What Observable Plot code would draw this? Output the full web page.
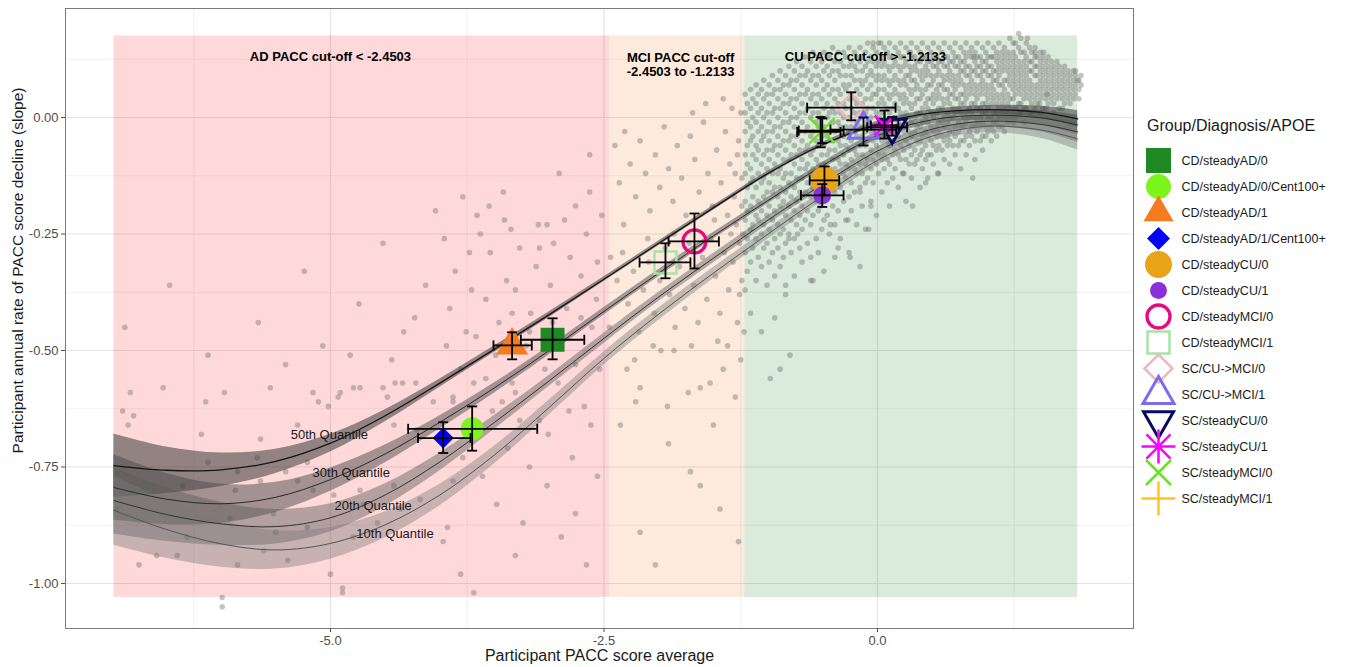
<!DOCTYPE html>
<html><head><meta charset="utf-8">
<script src="https://cdn.jsdelivr.net/npm/d3@7"></script>
<script src="https://cdn.jsdelivr.net/npm/@observablehq/plot@0.6"></script>
<style>
html,body{margin:0;padding:0;background:#fff;}
body{font-family:"Liberation Sans",Arial,sans-serif;}
#wrap{position:relative;width:1347px;height:667px;overflow:hidden;}
#chart{position:absolute;left:0;top:0;}
#legendTitle{position:absolute;left:1147px;top:116px;font-size:16px;color:#1a1a1a;white-space:nowrap;line-height:20px;}
#legend{position:absolute;left:1140px;top:140px;}
</style></head><body>
<div id="wrap"><div id="chart"></div><div id="legendTitle"></div><div id="legend"></div></div>
<script>
// ---------------- DATA ----------------
const xTitle = "Participant PACC score average";
const yTitle = "Participant annual rate of PACC score decline (slope)";
const legendTitle = "Group/Diagnosis/APOE";

const xTicks = [-5, -2.5, 0];
const xTickLabels = ["-5.0", "-2.5", "0.0"];
const yTicks = [0, -0.25, -0.5, -0.75, -1];
const yTickLabels = ["0.00", "-0.25", "-0.50", "-0.75", "-1.00"];
const xMinor = [-6.25, -3.75, -1.25, 1.25];
const yMinor = [0.125, -0.125, -0.375, -0.625, -0.875];

const zoneNames = ["AD", "MCI", "CU"];
const zoneX1 = [-6.98, -2.4503, -1.2133];
const zoneX2 = [-2.4503, -1.2133, 1.83];
const zoneY1 = [-1.03, -1.03, -1.03];
const zoneY2 = [0.175, 0.175, 0.175];
const zoneLabels = ["AD PACC cut-off < -2.4503", "MCI PACC cut-off\n-2.4503 to -1.2133", "CU PACC cut-off > -1.2133"];
const zoneLabelX = [-5.0, -1.80, -0.11];
const zoneLabelY = [0.13, 0.114, 0.13];

// quantile regression curves
const quantileLabels = ["50th Quantile", "30th Quantile", "20th Quantile", "10th Quantile"];
const quantileLabelX = [-5.01, -4.81, -4.61, -4.41];
const quantileLabelY = [-0.680, -0.762, -0.833, -0.893];
const curveX = [-6.98, -6.5, -6, -5.5, -5, -4.5, -4, -3.5, -3, -2.5, -2, -1.5, -1, -0.5, 0, 0.5, 1, 1.5, 1.83];
const q50 = [-0.747, -0.757, -0.756, -0.738, -0.699, -0.640, -0.570, -0.497, -0.423, -0.347, -0.270, -0.194, -0.120, -0.058, -0.014, 0.010, 0.017, 0.011, -0.003];
const q30 = [-0.794, -0.819, -0.829, -0.815, -0.777, -0.722, -0.654, -0.580, -0.500, -0.416, -0.334, -0.254, -0.178, -0.103, -0.039, -0.005, 0.005, -0.001, -0.016];
const q20 = [-0.822, -0.852, -0.872, -0.878, -0.859, -0.810, -0.739, -0.654, -0.565, -0.474, -0.385, -0.302, -0.220, -0.143, -0.072, -0.025, -0.008, -0.015, -0.031];
const q10 = [-0.843, -0.884, -0.915, -0.928, -0.914, -0.874, -0.810, -0.724, -0.622, -0.517, -0.422, -0.334, -0.250, -0.168, -0.092, -0.040, -0.019, -0.027, -0.046];
const se50 = [0.068, 0.050, 0.036, 0.026, 0.019, 0.013, 0.009, 0.007, 0.006, 0.005, 0.005, 0.005, 0.005, 0.005, 0.006, 0.007, 0.009, 0.013, 0.018];
const se30 = [0.070, 0.055, 0.042, 0.032, 0.025, 0.019, 0.014, 0.011, 0.009, 0.008, 0.008, 0.007, 0.007, 0.007, 0.008, 0.009, 0.011, 0.015, 0.021];
const se20 = [0.072, 0.058, 0.046, 0.037, 0.030, 0.024, 0.019, 0.015, 0.012, 0.011, 0.010, 0.010, 0.009, 0.009, 0.009, 0.010, 0.012, 0.016, 0.022];
const se10 = [0.075, 0.062, 0.050, 0.041, 0.034, 0.028, 0.023, 0.019, 0.016, 0.014, 0.013, 0.012, 0.011, 0.011, 0.011, 0.012, 0.014, 0.018, 0.024];

// group summaries (mean and error bars)
const groups = ["CD/steadyAD/0", "CD/steadyAD/0/Cent100+", "CD/steadyAD/1", "CD/steadyAD/1/Cent100+", "CD/steadyCU/0", "CD/steadyCU/1", "CD/steadyMCI/0", "CD/steadyMCI/1", "SC/CU->MCI/0", "SC/CU->MCI/1", "SC/steadyCU/0", "SC/steadyCU/1", "SC/steadyMCI/0", "SC/steadyMCI/1"];
const groupX   = [-2.97, -3.705, -3.34, -3.97, -0.485, -0.505, -1.673, -1.938, -0.24, -0.128, 0.134, 0.064, -0.505, -0.52];
const groupY   = [-0.477, -0.668, -0.489, -0.688, -0.135, -0.167, -0.266, -0.311, 0.021, -0.026, -0.021, -0.017, -0.028, -0.031];
const groupXlo = [-3.26, -4.29, -3.51, -4.20, -0.62, -0.70, -1.91, -2.175, -0.643, -0.43, -0.094, -0.06, -0.72, -0.734];
const groupXhi = [-2.68, -3.11, -3.16, -3.72, -0.35, -0.31, -1.45, -1.71, 0.165, 0.17, 0.271, 0.19, -0.31, -0.338];
const groupYlo = [-0.519, -0.715, -0.519, -0.720, -0.167, -0.192, -0.324, -0.345, -0.006, -0.060, -0.039, -0.045, -0.055, -0.064];
const groupYhi = [-0.431, -0.620, -0.461, -0.654, -0.105, -0.143, -0.206, -0.270, 0.054, 0.000, 0.001, 0.015, -0.002, 0.001];

// participant points (x, y in hundredths)
const ptsAD = "-683,-59 -653,-58 -690,-63 -685,-66 -680,-64 -614,-61 -597,-59 -618,-68 -555,-58 -564,-69 -675,-96 -659,-94 -640,-94 -599,-103 -585,-96 -530,-66 -516,-59 -511,-61 -502,-62 -491,-59 -493,-60 -479,-58 -473,-58 -452,-58 -441,-57 -448,-60 -434,-57 -422,-57 -406,-61 -388,-60 -442,-66 -421,-67 -521,-74 -541,-76 -567,-73 -612,-74 -635,-79 -587,-80 -564,-78 -530,-78 -516,-80 -497,-81 -473,-80 -442,-79 -418,-82 -388,-78 -393,-88 -397,-91 -436,-84 -470,-83 -521,-88 -550,-89 -552,-85 -592,-86 -631,-90 -561,-93 -539,-95 -500,-98 -489,-101 -381,-98 -479,-90 -457,-87 -585,-76 -695,-84 -599,-105 -489,-102 -369,-102 -688,-45 -647,-36 -566,-44 -524,-33 -507,-49 -474,-40 -452,-27 -433,-46 -413,-36 -404,-20 -612,-51 -541,-53 -482,-51 -444,-52 -423,-43 -263,-8 -291,-12 -342,-16 -366,-21 -355,-19 -341,-22 -335,-24 -310,-23 -302,-23 -286,-22 -276,-19 -263,-16 -252,-21 -363,-25 -386,-33 -371,-37 -354,-29 -339,-35 -327,-28 -312,-32 -296,-27 -281,-30 -266,-25 -256,-31 -391,-41 -376,-46 -358,-39 -346,-44 -331,-37 -317,-42 -299,-36 -284,-41 -271,-34 -257,-39 -394,-49 -381,-54 -367,-47 -349,-51 -334,-57 -321,-49 -304,-54 -289,-47 -276,-53 -261,-45 -388,-61 -369,-57 -352,-63 -331,-59 -309,-65 -292,-57 -268,-62 -254,-54 -379,-73 -361,-77 -338,-71 -318,-75 -301,-68 -279,-73 -262,-66 -348,-83 -324,-87 -302,-79 -276,-85 -256,-77 -331,-94 -289,-90 -266,-96 -396,-26 -379,-17 -373,-29 -318,-46 -343,-61 -297,-44 -282,-63 -358,-56 -327,-65 -271,-43 -309,-28 -334,-42";
const ptsMCI = "-240,-6 -236,-14 -231,-3 -226,-10 -221,-17 -217,-5 -212,-12 -208,-20 -203,-8 -199,-15 -195,-2 -191,-11 -187,-18 -183,-6 -179,-13 -175,-21 -171,-4 -167,-9 -163,-16 -159,-1 -155,-12 -151,-19 -147,-7 -143,-14 -139,-3 -135,-10 -131,-17 -127,-5 -124,-13 -157,3 -141,4 -133,2 -125,1 -169,1 -149,-22 -137,-21 -129,-23 -186,-25 -210,-26 -232,-23 -244,-30 -238,-35 -233,-29 -228,-40 -223,-33 -218,-46 -214,-37 -209,-31 -204,-42 -199,-35 -194,-28 -190,-38 -185,-45 -181,-32 -176,-41 -172,-27 -168,-36 -164,-44 -160,-30 -156,-39 -152,-26 -148,-34 -144,-42 -140,-29 -136,-37 -132,-31 -128,-44 -124,-35 -126,-27 -134,-25 -146,-48 -170,-49 -198,-50 -222,-52 -245,-45 -229,-54 -205,-49 -186,-50 -173,-59 -162,-58 -153,-57 -141,-54 -137,-49 -217,-58 -221,-61 -192,-62 -171,-76 -144,-84 -127,-91 -203,-96 -217,-89 -162,-79 -191,-70 -235,-66 -150,-66 -130,-60 -128,-8 -124,-19 -126,-38 -122,-46 -130,-12 -123,-25 -125,-52";
const ptsCUcols = [
"-121:5,1,-3,-8,-12,-18,-22,-29,-37", "-119:3,-1,-6,-10,-15,-20,-26,-33", "-116:6,2,-2,-5,-11,-14,-19,-24,-31,-42",
"-114:4,0,-4,-8,-13,-17,-23,-28", "-111:7,3,-1,-6,-9,-15,-21,-26,-35", "-109:5,1,-3,-7,-12,-18,-22,-30",
"-106:6,2,-2,-5,-10,-14,-20,-25,-32,-46", "-104:8,4,0,-4,-8,-13,-17,-23,-28", "-101:5,1,-3,-7,-11,-16,-21,-27,-36",
"-99:7,3,-1,-5,-9,-14,-19,-24,-31", "-96:9,5,1,-3,-7,-12,-16,-22,-29", "-94:6,2,-2,-6,-10,-15,-20,-26,-34,-43",
"-91:8,4,0,-4,-8,-12,-17,-23,-28", "-89:10,6,2,-2,-6,-11,-15,-19,-25,-32", "-86:7,3,-1,-5,-9,-13,-18,-24,-30",
"-84:9,5,1,-3,-7,-12,-16,-21,-27,-38", "-81:11,7,3,-1,-5,-9,-14,-19,-25", "-79:8,4,0,-4,-8,-12,-17,-22,-29",
"-76:10,6,2,-2,-6,-10,-15,-20,-26,-34", "-74:12,8,4,0,-4,-8,-13,-18,-23", "-71:9,5,1,-3,-7,-11,-16,-21,-28",
"-69:11,7,3,-1,-5,-9,-13,-19,-24,-31", "-66:13,9,5,1,-3,-7,-11,-16,-22", "-64:10,6,2,-2,-6,-10,-14,-20,-27",
"-61:12,8,4,0,-4,-8,-12,-17,-23,-35", "-59:14,9,5,1,-3,-7,-11,-15,-21", "-56:11,7,3,-1,-5,-9,-13,-18,-26",
"-54:13,9,5,1,-2,-6,-10,-14,-20,-29", "-51:12,8,4,0,-4,-8,-12,-17,-24", "-49:14,10,6,2,-2,-6,-10,-15,-22,-33",
"-46:11,7,3,0,-4,-8,-12,-16,-21", "-44:13,9,5,1,-3,-7,-11,-15,-25", "-41:15,10,6,2,-1,-5,-9,-13,-19",
"-39:12,8,4,1,-3,-7,-11,-16,-23,-30", "-36:14,10,6,3,-1,-5,-9,-14,-20", "-34:12,9,5,1,-2,-6,-10,-15,-26",
"-31:14,11,7,3,0,-4,-8,-12,-18", "-29:13,9,6,2,-2,-6,-10,-13,-22", "-26:15,11,7,4,0,-3,-7,-11,-17,-29",
"-24:12,9,5,2,-2,-5,-9,-14,-20", "-21:14,11,8,4,1,-3,-7,-11,-16", "-19:13,10,6,3,-1,-4,-8,-12,-23",
"-16:15,12,8,5,1,-2,-6,-10,-15", "-14:13,10,7,3,0,-4,-8,-12,-19", "-11:14,11,8,4,1,-3,-6,-10,-14,-24",
"-9:16,12,9,6,2,-1,-5,-9,-13", "-6:13,10,7,4,0,-3,-7,-11,-18", "-4:15,12,9,5,2,-2,-5,-9,-14",
"-1:14,11,8,5,1,-2,-6,-10,-21", "1:16,12,9,6,3,0,-4,-8,-12", "4:13,11,8,4,1,-2,-5,-9,-16",
"6:15,12,9,6,3,-1,-4,-8,-11", "9:14,11,8,5,2,-1,-5,-9,-14", "11:16,13,10,7,4,1,-3,-6,-10,-19",
"14:13,11,8,5,2,-2,-5,-8,-13", "16:15,12,9,6,3,0,-3,-7,-11", "19:14,11,8,5,2,-1,-4,-8,-15",
"21:16,13,10,7,4,1,-2,-6,-9", "24:13,11,8,5,3,0,-3,-7,-12", "26:15,12,9,7,4,1,-2,-5,-9,-18",
"29:14,11,9,6,3,0,-3,-6,-10", "31:16,13,10,8,5,2,-1,-4,-8,-13", "34:13,11,8,6,3,0,-3,-7,-10",
"36:15,12,10,7,4,1,-2,-5,-9", "39:14,12,9,6,4,1,-2,-5,-8,-15", "41:16,13,10,8,5,2,-1,-4,-7,-11",
"44:13,11,9,6,3,0,-3,-6,-9", "46:15,12,10,7,4,2,-1,-4,-8,-13", "49:14,12,9,7,4,1,-2,-5,-8",
"51:16,13,11,8,5,3,0,-3,-6,-10", "54:13,11,9,6,4,1,-2,-4,-7", "56:15,12,10,7,5,2,-1,-3,-6,-12",
"59:14,12,9,7,4,2,-1,-4,-7", "61:16,13,11,8,6,3,0,-2,-5,-9", "64:13,11,9,6,4,1,-1,-4,-6",
"66:15,12,10,8,5,3,0,-3,-5,-10", "69:14,12,9,7,5,2,0,-3,-6", "71:16,13,11,8,6,4,1,-2,-4,-8",
"74:13,11,9,7,4,2,-1,-3,-6", "76:15,12,10,8,5,3,1,-2,-5,-11", "79:14,12,10,7,5,3,0,-2,-5",
"81:16,13,11,9,6,4,1,-1,-4,-8", "84:14,11,9,7,5,2,0,-3,-6", "86:15,13,10,8,6,3,1,-2,-4",
"89:14,12,10,7,5,3,0,-2,-5,-9", "91:16,13,11,9,6,4,2,-1,-3", "94:13,11,9,7,5,2,0,-2,-5",
"96:15,12,10,8,6,3,1,-1,-4,-7", "99:14,12,10,7,5,3,1,-2,-4", "101:16,13,11,9,6,4,2,0,-3",
"104:13,11,9,7,5,3,0,-2,-5", "106:15,13,10,8,6,4,1,-1,-3", "109:14,12,10,8,5,3,1,-1,-4",
"111:16,13,11,9,7,4,2,0,-2", "114:14,12,10,7,5,3,1,-2", "116:15,13,11,8,6,4,2,0,-3",
"119:14,12,10,8,5,3,1,-1", "121:17,13,11,9,7,4,2,0", "124:14,12,10,8,6,4,1,-1",
"126:16,13,11,9,7,5,2,0", "129:15,12,10,8,6,3,1", "131:17,14,11,9,7,5,3,1",
"134:14,12,10,8,6,4,2,-1", "136:16,13,11,9,7,5,2", "139:15,12,10,8,6,4,1",
"141:14,12,10,7,5,3,1", "144:15,13,11,9,6,4,2", "146:13,11,9,7,5,3",
"149:14,12,10,8,6,4,1", "151:13,11,9,7,5,2", "154:12,10,8,6,4,2", "156:13,11,9,7,5,3",
"159:12,10,8,6,4", "161:11,9,7,5,3,1", "164:12,10,8,6,4", "166:11,9,7,5,2", "169:10,8,6,4,2",
"171:11,9,7,5,3", "174:10,8,6,4", "176:9,7,5,3", "179:10,8,6,4", "181:9,7,5", "184:8,6,4", "186:9,7"
];
const ptsCUextra = "-52,-19 -43,-23 -27,-22 -16,-16 -8,-24 -81,-26 -73,-25 -61,-30 -36,-28 -25,-30 -16,-32 -59,-35 -84,-36 32,-19 44,-14 55,-12 87,-13 23,-12 -6,-19 -80,-51 -98,-56 -89,-54 129,18 137,17 144,14 152,14 155,5 148,3 181,10 183,8 3,16 -4,16 30,14 88,13 124,16";

// ---------------- STYLE ----------------
const font = "'Liberation Sans', Arial, Helvetica, sans-serif";
const zoneFill = ["#ff0000", "#f07018", "#0b7a0b"];
const ribbonFill = ["#3a3a3a", "#4a4a4a", "#5a5a5a", "#7a7a7a"];
const ribbonOpacity = [0.55, 0.5, 0.45, 0.42];
const lineStroke = ["#151515", "#2a2a2a", "#333333", "#555555"];

const symR = s => Math.sqrt(s / Math.PI);
const symSquare = {draw(c, s) { const r = symR(s); c.moveTo(-r, -r); c.lineTo(r, -r); c.lineTo(r, r); c.lineTo(-r, r); c.closePath(); }};
const symCircle = {draw(c, s) { const r = symR(s); c.moveTo(r, 0); c.arc(0, 0, r, 0, 2 * Math.PI); c.closePath(); }};
const symTriUp = {draw(c, s) { const r = symR(s), h = r * Math.sqrt(3); c.moveTo(0, -2 * h / 3); c.lineTo(r, h / 3); c.lineTo(-r, h / 3); c.closePath(); }};
const symTriDown = {draw(c, s) { const r = symR(s), h = r * Math.sqrt(3); c.moveTo(0, 2 * h / 3); c.lineTo(r, -h / 3); c.lineTo(-r, -h / 3); c.closePath(); }};
const symDiamond = {draw(c, s) { const r = symR(s); c.moveTo(0, -r); c.lineTo(r, 0); c.lineTo(0, r); c.lineTo(-r, 0); c.closePath(); }};
const symPlus = {draw(c, s) { const r = symR(s); c.moveTo(-r, 0); c.lineTo(r, 0); c.moveTo(0, -r); c.lineTo(0, r); }};
const symTimes = {draw(c, s) { const r = symR(s); c.moveTo(-r, -r); c.lineTo(r, r); c.moveTo(-r, r); c.lineTo(r, -r); }};
const symStar = {draw(c, s) { const r = symR(s), k = r * 0.7071; c.moveTo(-r, 0); c.lineTo(r, 0); c.moveTo(0, -r); c.lineTo(0, r); c.moveTo(-k, -k); c.lineTo(k, k); c.moveTo(-k, k); c.lineTo(k, -k); }};
const symHCap = {draw(c, s) { const r = symR(s); c.moveTo(-r, 0); c.lineTo(r, 0); }};
const symVCap = {draw(c, s) { const r = symR(s); c.moveTo(0, -r); c.lineTo(0, r); }};

const markerSymbol = [symSquare, symCircle, symTriUp, symDiamond, symCircle, symCircle, symCircle, symSquare, symDiamond, symTriUp, symTriDown, symStar, symTimes, symPlus];
const markerFill = ["#1f8a24", "#7cf51a", "#f47b20", "#0000ff", "#e8a317", "#8b30d8", "none", "none", "none", "none", "none", "none", "none", "none"];
const markerStroke = ["none", "none", "none", "none", "none", "none", "#e6097f", "#a8e2a8", "#f7b3bb", "#7b6cf0", "#0a0a5c", "#ff00ff", "#66e619", "#ffc619"];
const markerR = [12, 11.5, 16, 10.5, 14, 9, 11.5, 11, 14, 15, 14, 14, 12.5, 15];
const legendR = [12.5, 12.5, 15, 11.5, 13.5, 8.5, 11.5, 11, 14, 15.5, 15, 17, 12.5, 17];
const markerSW = [0, 0, 0, 0, 0, 0, 3.3, 2.5, 2.5, 3, 3, 2.5, 2.5, 2.5];

// ---------------- BUILD ----------------
const parsePairs = s => s.trim().split(/\s+/).map(t => { const [a, b] = t.split(",").map(Number); return {x: a / 100, y: b / 100}; });
const parseCols = arr => arr.flatMap(c => { const [xs, ys] = c.split(":"); return ys.split(",").map(v => ({x: +xs / 100, y: +v / 100})); });
const points = [...parsePairs(ptsAD), ...parsePairs(ptsMCI), ...parseCols(ptsCUcols), ...parsePairs(ptsCUextra)];

const qVals = [q50, q30, q20, q10];
const qSe = [se50, se30, se20, se10];
const qRows = qVals.map((vals, k) => curveX.map((x, i) => ({x, y: vals[i], lo: vals[i] - qSe[k][i], hi: vals[i] + qSe[k][i]})));
const qLabelRows = quantileLabels.map((t, i) => ({t, x: quantileLabelX[i], y: quantileLabelY[i]}));
const zones = zoneNames.map((n, i) => ({n, x1: zoneX1[i], x2: zoneX2[i], y1: zoneY1[i], y2: zoneY2[i]}));
const zoneLabelRows = zoneLabels.map((t, i) => ({t, x: zoneLabelX[i], y: zoneLabelY[i]}));
const gRows = groups.map((g, i) => ({g, x: groupX[i], y: groupY[i], xlo: groupXlo[i], xhi: groupXhi[i], ylo: groupYlo[i], yhi: groupYhi[i]}));

const marks = [
  Plot.ruleX(xMinor, {stroke: "#ececec", strokeWidth: 0.7}),
  Plot.ruleY(yMinor, {stroke: "#ececec", strokeWidth: 0.7}),
  Plot.ruleX(xTicks, {stroke: "#e4e4e4", strokeWidth: 1.2}),
  Plot.ruleY(yTicks, {stroke: "#e4e4e4", strokeWidth: 1.2}),
  ...zones.map((z, i) => Plot.rect([z], {x1: "x1", x2: "x2", y1: "y1", y2: "y2", fill: zoneFill[i], fillOpacity: 0.15})),
  Plot.dot(points, {x: "x", y: "y", r: 2.8, fill: "#707070", fillOpacity: 0.42, stroke: "none"}),
  ...qRows.map((rows, k) => Plot.areaY(rows, {x: "x", y1: "lo", y2: "hi", fill: ribbonFill[k], fillOpacity: ribbonOpacity[k], curve: "catmull-rom"})),
  ...qRows.map((rows, k) => Plot.line(rows, {x: "x", y: "y", stroke: lineStroke[k], strokeWidth: k === 0 ? 1.3 : 1, curve: "catmull-rom"})),
  Plot.text(qLabelRows, {x: "x", y: "y", text: "t", fontSize: 13, fill: "#1a1a1a"}),
  ...gRows.map((row, i) => Plot.dot([row], {x: "x", y: "y", symbol: markerSymbol[i], r: markerR[i], fill: markerFill[i], stroke: markerStroke[i], strokeWidth: markerSW[i]})),
  Plot.ruleX(gRows, {x: "x", y1: "ylo", y2: "yhi", stroke: "#000", strokeWidth: 1.8}),
  Plot.ruleY(gRows, {y: "y", x1: "xlo", x2: "xhi", stroke: "#000", strokeWidth: 1.8}),
  Plot.dot(gRows, {x: "x", y: "ylo", symbol: symHCap, r: 5, stroke: "#000", strokeWidth: 1.8, fill: "none"}),
  Plot.dot(gRows, {x: "x", y: "yhi", symbol: symHCap, r: 5, stroke: "#000", strokeWidth: 1.8, fill: "none"}),
  Plot.dot(gRows, {x: "xlo", y: "y", symbol: symVCap, r: 5, stroke: "#000", strokeWidth: 1.8, fill: "none"}),
  Plot.dot(gRows, {x: "xhi", y: "y", symbol: symVCap, r: 5, stroke: "#000", strokeWidth: 1.8, fill: "none"}),
  Plot.text(zoneLabelRows, {x: "x", y: "y", text: "t", fontSize: 13, fontWeight: "bold", fill: "#000", lineHeight: 1.1}),
  Plot.frame({stroke: "#7a7a7a", strokeWidth: 1}),
  Plot.axisX(xTicks, {tickFormat: d => xTickLabels[xTicks.indexOf(d)], tickSize: 4, tickPadding: 3, fontSize: 13, color: "#4d4d4d", label: null}),
  Plot.axisY(yTicks, {tickFormat: d => yTickLabels[yTicks.indexOf(d)], tickSize: 4, tickPadding: 3, fontSize: 13, color: "#4d4d4d", label: null}),
  Plot.text([xTitle], {text: d => d, frameAnchor: "bottom", dy: 27, fontSize: 16, fill: "#1a1a1a", lineAnchor: "middle", textAnchor: "middle"}),
  Plot.text([yTitle], {text: d => d, frameAnchor: "left", dx: -47, dy: -48, rotate: -90, fontSize: 15.5, fill: "#1a1a1a", lineAnchor: "middle", textAnchor: "middle"})
];

const chart = Plot.plot({
  width: 1140, height: 667,
  marginLeft: 65, marginRight: 7, marginTop: 8, marginBottom: 39,
  style: {fontFamily: font, background: "transparent", overflow: "visible"},
  x: {domain: [-7.422, 2.340], axis: null},
  y: {domain: [-1.0966, 0.2339], axis: null},
  marks
});
document.getElementById("chart").appendChild(chart);

const legendPlot = Plot.plot({
  width: 207, height: 377, margin: 0,
  style: {fontFamily: font, background: "transparent", overflow: "visible"},
  x: {domain: [0, 1], axis: null},
  y: {type: "point", domain: groups, padding: 0.5, axis: null},
  marks: [
    ...groups.map((g, i) => Plot.dot([g], {y: d => d, frameAnchor: "left", dx: 18, symbol: markerSymbol[i], r: legendR[i], fill: markerFill[i], stroke: markerStroke[i], strokeWidth: markerSW[i]})),
    Plot.text(groups, {y: d => d, text: d => d, frameAnchor: "left", dx: 41, textAnchor: "start", fontSize: 12.5, fill: "#1a1a1a"})
  ]
});
document.getElementById("legend").appendChild(legendPlot);
document.getElementById("legendTitle").textContent = legendTitle;
</script></body></html>
